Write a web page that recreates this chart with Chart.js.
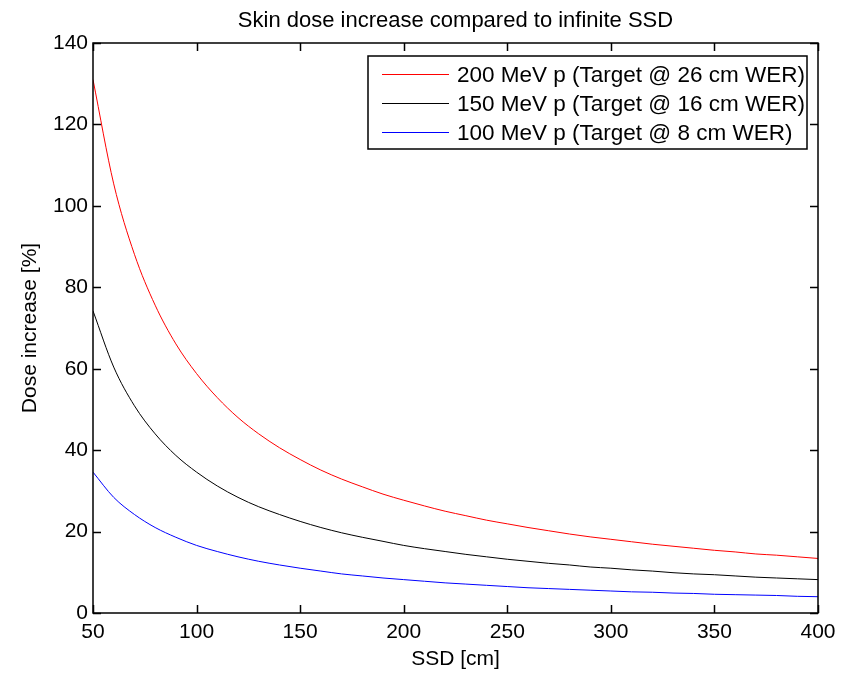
<!DOCTYPE html>
<html>
<head>
<meta charset="utf-8">
<script src="https://cdn.jsdelivr.net/npm/chart.js@4"></script>
<style>
  html, body { margin: 0; padding: 0; background: #fff; }
  #wrap { width: 849px; height: 673px; }
</style>
</head>
<body>
<div id="wrap"><canvas id="doseChart" width="849" height="673"></canvas></div>
<script>
// SSD values [cm]
var ssd = [50, 60, 70, 80, 90, 100, 110, 120, 130, 140, 150, 160, 170, 180, 190, 200, 210, 220,
  230, 240, 250, 260, 270, 280, 290, 300, 310, 320, 330, 340, 350, 360, 370, 380, 390, 400];

// dose increase [%]
var dose200 = [131.0, 105.4, 88.1, 75.6, 66.1, 58.8, 52.9, 48.0, 44.0, 40.6, 37.7, 35.1, 32.9, 31.0,
  29.2, 27.7, 26.3, 25.0, 23.9, 22.8, 21.9, 21.0, 20.2, 19.4, 18.7, 18.1, 17.5, 16.9, 16.4, 15.9,
  15.4, 15.0, 14.5, 14.2, 13.8, 13.4];
var dose150 = [74.2, 60.4, 50.9, 44.0, 38.7, 34.6, 31.2, 28.4, 26.1, 24.2, 22.5, 21.0, 19.7, 18.6,
  17.6, 16.6, 15.8, 15.1, 14.4, 13.8, 13.2, 12.7, 12.2, 11.8, 11.3, 11.0, 10.6, 10.3, 9.9, 9.6,
  9.4, 9.1, 8.8, 8.6, 8.4, 8.2];
var dose100 = [34.6, 28.4, 24.2, 21.0, 18.6, 16.6, 15.1, 13.8, 12.7, 11.8, 11.0, 10.3, 9.6, 9.1,
  8.6, 8.2, 7.8, 7.4, 7.1, 6.8, 6.5, 6.2, 6.0, 5.8, 5.6, 5.4, 5.2, 5.1, 4.9, 4.8,
  4.6, 4.5, 4.4, 4.3, 4.1, 4.0];

var seriesLabels = [
  '200 MeV p (Target @ 26 cm WER)',
  '150 MeV p (Target @ 16 cm WER)',
  '100 MeV p (Target @ 8 cm WER)'
];
var seriesColors = ['#ff0000', '#000000', '#0000ff'];

var xTicks = [50, 100, 150, 200, 250, 300, 350, 400];
var yTicks = [0, 20, 40, 60, 80, 100, 120, 140];

var fontFamily = '"Liberation Sans", Arial, sans-serif';

function toPoints(ys) {
  return ssd.map(function (x, i) { return {x: x, y: ys[i]}; });
}

// matlab style box, inward ticks and boxed legend
var matlabFrame = {
  id: 'matlabFrame',
  afterDatasetsDraw: function (chart) {
    var ctx = chart.ctx;
    var area = chart.chartArea;
    var xs = chart.scales.x;
    var ys = chart.scales.y;
    var tl = 8;

    ctx.save();
    ctx.strokeStyle = '#000';
    ctx.lineWidth = 1.5;
    ctx.beginPath();
    xTicks.forEach(function (v) {
      var px = Math.round(xs.getPixelForValue(v)) + 0.5;
      ctx.moveTo(px, area.bottom); ctx.lineTo(px, area.bottom - tl);
      ctx.moveTo(px, area.top); ctx.lineTo(px, area.top + tl);
    });
    yTicks.forEach(function (v) {
      var py = Math.round(ys.getPixelForValue(v)) + 0.5;
      ctx.moveTo(area.left, py); ctx.lineTo(area.left + tl, py);
      ctx.moveTo(area.right, py); ctx.lineTo(area.right - tl, py);
    });
    ctx.stroke();
    ctx.strokeRect(area.left, area.top, area.right - area.left, area.bottom - area.top);

    // legend
    var boxR = area.right - 11, boxT = area.top + 13;
    var boxW = 439, boxH = 93;
    var boxL = boxR - boxW;
    ctx.fillStyle = '#fff';
    ctx.fillRect(boxL, boxT, boxW, boxH);
    ctx.lineWidth = 1.5;
    ctx.strokeRect(boxL, boxT, boxW, boxH);
    ctx.font = '22.5px ' + fontFamily;
    ctx.textBaseline = 'middle';
    ctx.textAlign = 'left';
    chart.data.datasets.forEach(function (ds, i) {
      var y = boxT + 18.5 + i * 29;
      ctx.strokeStyle = ds.borderColor;
      ctx.lineWidth = 1;
      ctx.beginPath();
      ctx.moveTo(boxL + 14, y);
      ctx.lineTo(boxL + 81, y);
      ctx.stroke();
      ctx.fillStyle = '#000';
      ctx.fillText(ds.label, boxL + 89, y + 1);
    });
    ctx.restore();
  }
};

var doseChart = new Chart(document.getElementById('doseChart'), {
  type: 'line',
  data: {
    datasets: [
      {label: seriesLabels[0], data: toPoints(dose200), borderColor: seriesColors[0]},
      {label: seriesLabels[1], data: toPoints(dose150), borderColor: seriesColors[1]},
      {label: seriesLabels[2], data: toPoints(dose100), borderColor: seriesColors[2]}
    ]
  },
  options: {
    responsive: false,
    animation: false,
    elements: {
      line: {borderWidth: 1, cubicInterpolationMode: 'monotone', fill: false},
      point: {radius: 0}
    },
    layout: {padding: {top: 0, right: 31, bottom: 0, left: 0}},
    plugins: {
      legend: {display: false},
      tooltip: {enabled: false},
      title: {
        display: true,
        fullSize: false,
        text: 'Skin dose increase compared to infinite SSD',
        color: '#000',
        font: {family: fontFamily, size: 22, weight: 'normal'},
        padding: {top: 8, bottom: 8.6}
      }
    },
    scales: {
      x: {
        type: 'linear',
        min: 50,
        max: 400,
        afterFit: function (scale) { scale.height = 60; },
        afterBuildTicks: function (scale) {
          scale.ticks = xTicks.map(function (v) { return {value: v}; });
        },
        grid: {display: false, drawTicks: false},
        border: {display: false},
        ticks: {color: '#000', padding: 7, maxRotation: 0, font: {family: fontFamily, size: 21}},
        title: {
          display: true,
          text: 'SSD [cm]',
          color: '#000',
          font: {family: fontFamily, size: 21},
          padding: {top: 0, bottom: 1.4}
        }
      },
      y: {
        type: 'linear',
        min: 0,
        max: 140,
        afterFit: function (scale) { scale.width = 93; },
        afterBuildTicks: function (scale) {
          scale.ticks = yTicks.map(function (v) { return {value: v}; });
        },
        grid: {display: false, drawTicks: false},
        border: {display: false},
        ticks: {color: '#000', padding: 5, font: {family: fontFamily, size: 21}},
        title: {
          display: true,
          text: 'Dose increase [%]',
          color: '#000',
          font: {family: fontFamily, size: 21},
          padding: {top: 17.4, bottom: 0}
        }
      }
    }
  },
  plugins: [matlabFrame]
});
</script>
</body>
</html>
